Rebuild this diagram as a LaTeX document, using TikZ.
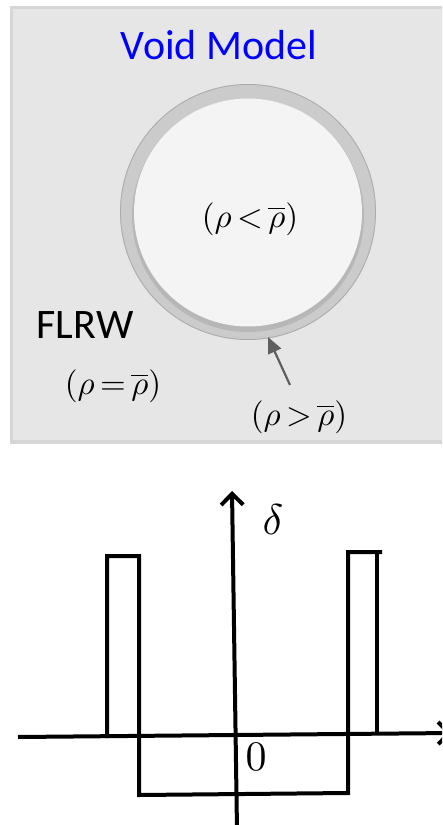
\documentclass[tikz,border=0pt]{standalone}
\usepackage{fontspec}
\usepackage{graphicx}
\setsansfont{Carlito}
\usetikzlibrary{arrows.meta}
\definecolor{panel}{HTML}{E6E6E6}
\definecolor{paneledge}{HTML}{D6D6D6}
\definecolor{ring}{HTML}{CBCBCB}
\definecolor{ringdark}{HTML}{ABABAB}
\definecolor{disk}{HTML}{F4F4F4}
\definecolor{arrowgray}{HTML}{5F5F5F}
\newcommand{\mymath}[2]{\scalebox{#1}{$#2$}}
\tikzset{
  sanslabel/.style={font=\sffamily\fontsize{42}{46}\selectfont, inner sep=0pt},
  mathlabel/.style={inner sep=0pt},
  plotline/.style={line width=4pt, line join=miter},
  axis/.style={line width=4pt, -{Straight Barb[length=11pt,width=22pt,line width=4pt]}},
}
\begin{document}
\begin{tikzpicture}[x=1pt,y=-1pt]
\useasboundingbox (0,0) rectangle (442,825);
\clip (0,0) rectangle (442,825);
% top panel
\fill[paneledge] (10,6) rectangle (446,444);
\fill[panel] (13,9) rectangle (446,440);
\node[sanslabel, text=blue] (title) at (219,45) {Void Model};
% void
\fill[ring] (248,212) circle (128);
\draw[ringdark, line width=0.8pt] (248,212) circle (127.5);
\fill[ringdark, opacity=0.6] (248,216) circle (116);
\fill[disk] (248,212.5) circle (114);
\node[mathlabel] (inside) at (250,219) {\mymath{3.3}{(\rho\,{<}\,\overline{\rho})}};
\node[sanslabel] (flrw) at (85,325) {FLRW};
\node[mathlabel] (outside) at (113,386) {\mymath{3.3}{(\rho\,{=}\,\overline{\rho})}};
\node[mathlabel] (shell) at (299,417) {\mymath{3.3}{(\rho\,{>}\,\overline{\rho})}};
\coordinate (arrowtail) at (290,385);
\coordinate (arrowtip) at (268,337);
\draw[arrowgray, line width=2.2pt, -{Triangle[length=16pt,width=14pt]}] (arrowtail) -- (arrowtip);
% plot
\coordinate (xl) at (18,737);
\coordinate (xr) at (452,733);
\coordinate (yb) at (237,830);
\coordinate (yt) at (232,491);
\draw[axis] (xl) -- (xr);
\draw[axis] (yb) -- (yt);
\node[mathlabel] (delta) at (273,520) {\mymath{4.3}{\delta}};
\node[mathlabel] (zero) at (256,757) {\mymath{4.2}{0}};
\coordinate (p1) at (107,738);
\coordinate (p2) at (107,556);
\coordinate (p3) at (139,556);
\coordinate (p4) at (139,795);
\coordinate (p5) at (348,793);
\coordinate (p6) at (348,552);
\coordinate (p7) at (382,552);
\coordinate (q1) at (377,554);
\coordinate (q2) at (377,732);
\draw[plotline] (p1) -- (p2) -- (p3) -- (p4) -- (p5) -- (p6) -- (p7);
\draw[plotline] (q1) -- (q2);
\end{tikzpicture}
\end{document}
